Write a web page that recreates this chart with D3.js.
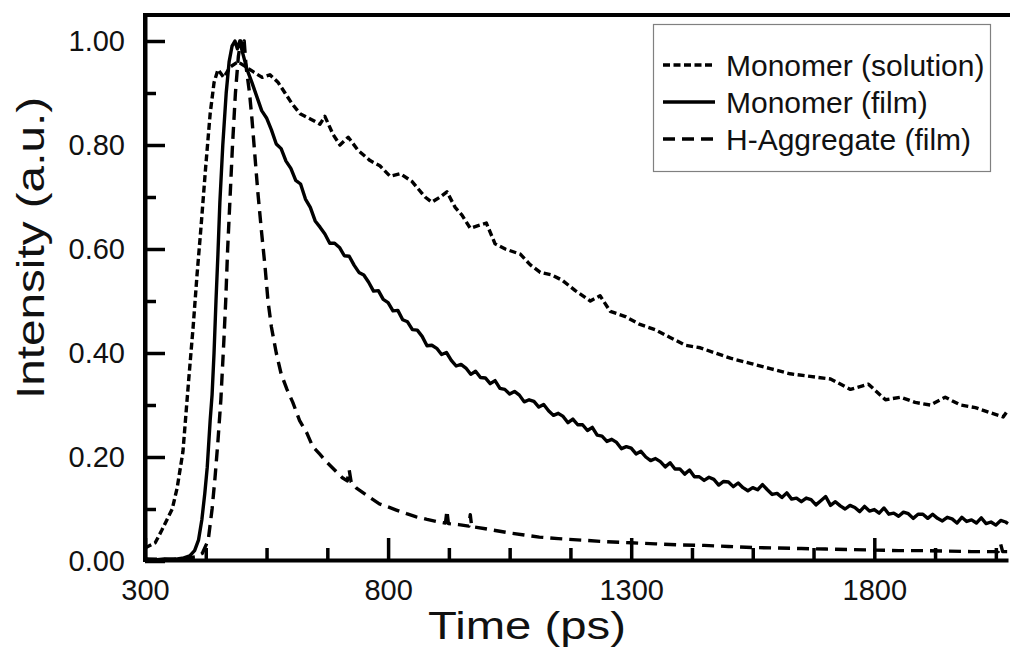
<!DOCTYPE html>
<html>
<head>
<meta charset="utf-8">
<script src="https://cdn.jsdelivr.net/npm/d3@7"></script>
<style>
  html, body { margin: 0; padding: 0; background: #fff; }
  svg { display: block; font-family: "Liberation Sans", Arial, sans-serif; }
</style>
</head>
<body>
<svg id="chart" width="1010" height="658"></svg>
<script>
// ---------------- DATA ----------------
const seriesNames = ["Monomer (solution)", "Monomer (film)", "H-Aggregate (film)"];

const xTickLabels = [300, 800, 1300, 1800];
const yTickLabels = [0.0, 0.2, 0.4, 0.6, 0.8, 1.0];

const solutionTime = [300, 321, 335, 356, 366, 378, 390, 399, 407, 415, 425, 434, 442, 450, 462, 475, 491, 508, 524, 541, 557, 574, 588, 602, 619, 640, 660, 670, 687, 701, 718, 738, 763, 783, 804, 825, 849, 876, 890, 907, 921, 938, 952, 969, 985, 1002, 1020, 1041, 1072, 1092, 1113, 1137, 1158, 1185, 1216, 1236, 1257, 1288, 1318, 1349, 1380, 1411, 1442, 1473, 1504, 1545, 1586, 1627, 1668, 1710, 1751, 1788, 1823, 1854, 1884, 1915, 1946, 1977, 2008, 2039, 2065, 2075];
const solutionValue = [0.025, 0.035, 0.06, 0.10, 0.14, 0.21, 0.35, 0.45, 0.55, 0.64, 0.76, 0.86, 0.92, 0.945, 0.93, 0.95, 0.96, 0.95, 0.94, 0.93, 0.935, 0.92, 0.90, 0.88, 0.86, 0.85, 0.84, 0.855, 0.82, 0.80, 0.815, 0.79, 0.77, 0.76, 0.74, 0.745, 0.73, 0.70, 0.69, 0.70, 0.71, 0.68, 0.665, 0.64, 0.645, 0.65, 0.61, 0.60, 0.59, 0.57, 0.555, 0.55, 0.54, 0.52, 0.50, 0.51, 0.48, 0.47, 0.455, 0.445, 0.43, 0.415, 0.41, 0.40, 0.39, 0.38, 0.37, 0.36, 0.355, 0.35, 0.33, 0.34, 0.31, 0.315, 0.305, 0.30, 0.315, 0.30, 0.295, 0.285, 0.277, 0.29];

const filmTime = [300, 320, 340, 360, 380, 392, 402, 410, 417, 423, 428, 434, 438, 442, 446, 450, 454, 460, 467, 473, 479, 485, 490, 495,
  500, 510, 520, 530, 540, 550, 560, 570, 580, 590, 600, 610, 620, 630, 640, 650, 660, 670, 680, 690, 700, 710, 720, 730, 740, 750, 760, 770, 780, 790,
  800, 810, 820, 830, 840, 850, 860, 870, 880, 890, 900, 910, 920, 930, 940, 950, 960, 970, 980, 990,
  1000, 1010, 1020, 1030, 1040, 1050, 1060, 1070, 1080, 1090, 1100, 1110, 1120, 1130, 1140, 1150, 1160, 1170, 1180, 1190,
  1200, 1210, 1220, 1230, 1240, 1250, 1260, 1270, 1280, 1290, 1300, 1310, 1320, 1330, 1340, 1350, 1360, 1370, 1380, 1390,
  1400, 1410, 1420, 1430, 1440, 1450, 1460, 1470, 1480, 1490, 1500, 1510, 1520, 1530, 1540, 1550, 1560, 1570, 1580, 1590,
  1600, 1610, 1620, 1630, 1640, 1650, 1660, 1670, 1680, 1690, 1700, 1710, 1720, 1730, 1740, 1750, 1760, 1770, 1780, 1790,
  1800, 1810, 1820, 1830, 1840, 1850, 1860, 1870, 1880, 1890, 1900, 1910, 1920, 1930, 1940, 1950, 1960, 1970, 1980, 1990,
  2000, 2010, 2020, 2030, 2040, 2050, 2060, 2070, 2075];
const filmValue = [0.003, 0.002, 0.004, 0.003, 0.006, 0.01, 0.02, 0.04, 0.08, 0.13, 0.18, 0.27, 0.32, 0.40, 0.50, 0.59, 0.69, 0.80, 0.90, 0.96, 0.99, 1.0, 0.985, 1.0,
  0.98, 0.945, 0.92, 0.893, 0.866, 0.852, 0.829, 0.802, 0.793, 0.769, 0.755, 0.732, 0.725, 0.696, 0.68, 0.654, 0.642, 0.629, 0.611, 0.611, 0.603, 0.587, 0.586, 0.569, 0.555, 0.55, 0.536, 0.519, 0.52, 0.503,
  0.497, 0.481, 0.482, 0.464, 0.46, 0.445, 0.444, 0.432, 0.414, 0.415, 0.409, 0.397, 0.401, 0.386, 0.375, 0.378, 0.371, 0.359, 0.365, 0.353,
  0.352, 0.341, 0.347, 0.332, 0.33, 0.321, 0.326, 0.319, 0.306, 0.31, 0.307, 0.296, 0.301, 0.289, 0.28, 0.284, 0.278, 0.266, 0.273, 0.262,
  0.262, 0.251, 0.257, 0.242, 0.24, 0.23, 0.234, 0.228, 0.216, 0.22, 0.217, 0.206, 0.211, 0.20, 0.193, 0.197, 0.191, 0.181, 0.189, 0.177,
  0.177, 0.167, 0.175, 0.162, 0.162, 0.155, 0.161, 0.157, 0.146, 0.153, 0.152, 0.143, 0.15, 0.141, 0.135, 0.141, 0.137, 0.147, 0.137, 0.128,
  0.13, 0.122, 0.131, 0.119, 0.121, 0.114, 0.121, 0.118, 0.108, 0.116, 0.124, 0.107, 0.114, 0.106, 0.10, 0.107, 0.103, 0.095, 0.105, 0.096,
  0.099, 0.092, 0.102, 0.09, 0.092, 0.086, 0.094, 0.091, 0.082, 0.09, 0.09, 0.082, 0.09, 0.082, 0.077, 0.084, 0.081, 0.073, 0.084, 0.076,
  0.079, 0.073, 0.083, 0.072, 0.075, 0.069, 0.078, 0.075, 0.072];

const aggTime = [300, 340, 380, 405, 418, 430, 438, 444, 450, 456, 462, 466, 470, 474, 480, 486, 492, 497, 500, 504, 508, 515, 520, 526, 532, 540, 547, 553, 560, 570, 580, 592, 604, 618, 633, 645, 660, 674, 690, 706, 716, 720, 724, 735, 758, 782, 800, 817, 838, 858, 880, 905, 918, 921, 924, 945, 966, 969, 972, 1000, 1043, 1080, 1111, 1150, 1200, 1250, 1300, 1350, 1400, 1450, 1500, 1550, 1600, 1650, 1700, 1750, 1800, 1850, 1900, 1950, 2000, 2040, 2055, 2060, 2064, 2075];
const aggValue = [0.004, 0.003, 0.005, 0.008, 0.015, 0.04, 0.10, 0.16, 0.23, 0.31, 0.42, 0.50, 0.60, 0.68, 0.80, 0.90, 0.97, 1.0, 0.985, 1.0, 0.95, 0.90, 0.85, 0.78, 0.71, 0.63, 0.565, 0.50, 0.45, 0.40, 0.36, 0.33, 0.305, 0.27, 0.246, 0.22, 0.205, 0.19, 0.175, 0.16, 0.154, 0.175, 0.152, 0.14, 0.125, 0.11, 0.104, 0.098, 0.091, 0.085, 0.08, 0.075, 0.073, 0.097, 0.072, 0.07, 0.067, 0.089, 0.066, 0.062, 0.055, 0.05, 0.046, 0.043, 0.04, 0.037, 0.035, 0.033, 0.031, 0.03, 0.028, 0.026, 0.025, 0.024, 0.023, 0.022, 0.021, 0.02, 0.02, 0.019, 0.018, 0.018, 0.018, 0.032, 0.018, 0.018];

// ---------------- LAYOUT ----------------
const svg = d3.select("#chart");
const mLeft = 145, mRight = 1008, mTop = 15, mBottom = 561;

const x = d3.scaleLinear().domain([300, 2075]).range([mLeft, mRight]);
const y = d3.scaleLinear().domain([0, 1.05]).range([mBottom, mTop]);

const series = [
  { name: seriesNames[0], t: solutionTime, v: solutionValue, dash: "7,3.5" },
  { name: seriesNames[1], t: filmTime, v: filmValue, dash: null },
  { name: seriesNames[2], t: aggTime, v: aggValue, dash: "12,7" }
];

const line = d3.line().x(d => x(d[0])).y(d => y(d[1]));

const curves = svg.append("g");
series.forEach(s => {
  const pts = s.t.map((t, i) => [t, s.v[i]]);
  curves.append("path")
    .attr("d", line(pts))
    .attr("fill", "none")
    .attr("stroke", "#000")
    .attr("stroke-width", 3.4)
    .attr("stroke-linejoin", "round")
    .attr("stroke-dasharray", s.dash);
});

// ---------------- AXES ----------------
const fontTick = 29;

const yAxis = svg.append("g").attr("transform", `translate(${mLeft},0)`)
  .call(d3.axisLeft(y).tickValues(yTickLabels).tickFormat(d3.format(".2f"))
    .tickSizeInner(-20).tickSizeOuter(0).tickPadding(20));
const yMinor = svg.append("g").attr("transform", `translate(${mLeft},0)`)
  .call(d3.axisLeft(y).tickValues([0.1, 0.3, 0.5, 0.7, 0.9]).tickFormat("")
    .tickSizeInner(-11).tickSizeOuter(0));
const xAxis = svg.append("g").attr("transform", `translate(0,${mBottom - 1})`)
  .call(d3.axisBottom(x).tickValues(xTickLabels).tickFormat(d3.format("d"))
    .tickSizeInner(-22).tickSizeOuter(0).tickPadding(19));
const xMinor = svg.append("g").attr("transform", `translate(0,${mBottom - 1})`)
  .call(d3.axisBottom(x).tickValues([425, 550, 675, 925, 1050, 1175, 1425, 1550, 1675, 1925, 2050]).tickFormat("")
    .tickSizeInner(-12).tickSizeOuter(0));

[yAxis, yMinor, xAxis, xMinor].forEach(g => {
  g.selectAll("line").attr("stroke", "#000").attr("stroke-width", 3.5);
  g.select(".domain").attr("stroke", "#000").attr("stroke-width", 4);
  g.selectAll("text").attr("fill", "#111").style("font-size", fontTick + "px")
    .style("font-family", "'Liberation Sans', Arial, sans-serif");
});
xMinor.select(".domain").remove();
yMinor.select(".domain").remove();

svg.append("line").attr("x1", mLeft).attr("x2", mLeft).attr("y1", mTop - 2).attr("y2", mBottom + 1)
  .attr("stroke", "#000").attr("stroke-width", 4);
svg.append("line").attr("x1", mLeft - 2).attr("x2", 1010).attr("y1", mTop).attr("y2", mTop)
  .attr("stroke", "#000").attr("stroke-width", 4);

svg.append("text")
  .attr("x", 527).attr("y", 639)
  .attr("text-anchor", "middle")
  .attr("textLength", 198).attr("lengthAdjust", "spacingAndGlyphs")
  .style("font-size", "39px").attr("fill", "#111")
  .text("Time (ps)");
svg.append("text")
  .attr("transform", "translate(44,248) rotate(-90)")
  .attr("text-anchor", "middle")
  .attr("textLength", 302).attr("lengthAdjust", "spacingAndGlyphs")
  .style("font-size", "38px").attr("fill", "#111")
  .text("Intensity (a.u.)");

// ---------------- LEGEND ----------------
const legend = svg.append("g");
legend.append("rect")
  .attr("x", 653.5).attr("y", 24.5).attr("width", 337).attr("height", 147)
  .attr("fill", "#fff").attr("stroke", "#808080").attr("stroke-width", 1.2);
const rowY = [65, 102, 139];
series.forEach((s, i) => {
  legend.append("line")
    .attr("x1", 663).attr("x2", 715).attr("y1", rowY[i]).attr("y2", rowY[i])
    .attr("stroke", "#000").attr("stroke-width", 3.4)
    .attr("stroke-dasharray", s.dash);
  legend.append("text")
    .attr("x", 726).attr("y", rowY[i] + 11)
    .style("font-size", "30px").attr("fill", "#111")
    .text(s.name);
});
</script>
</body>
</html>
